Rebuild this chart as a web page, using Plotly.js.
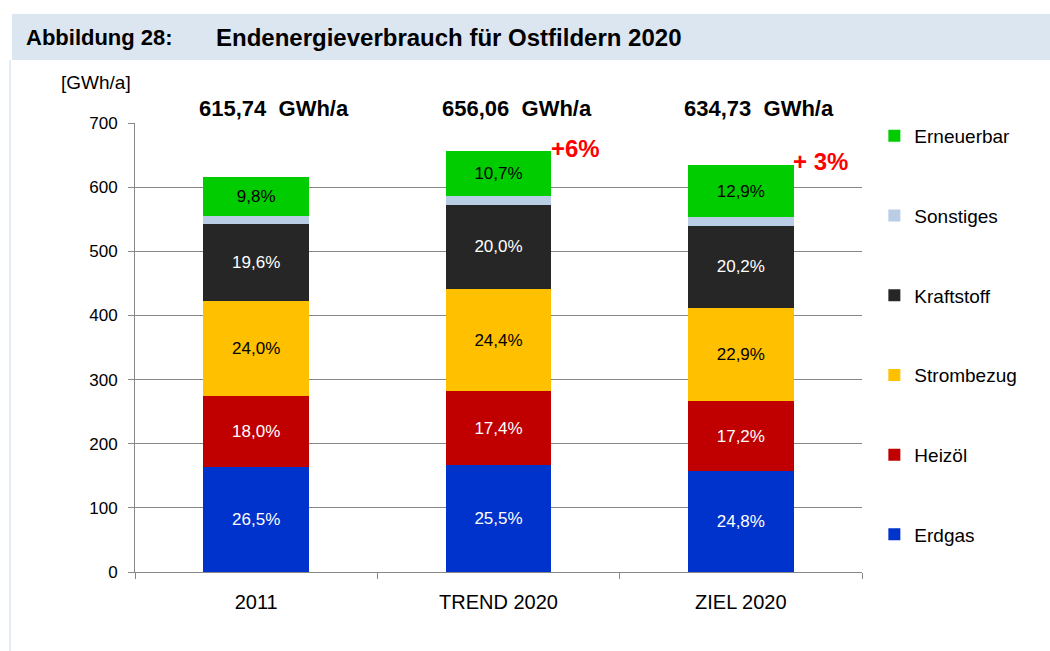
<!DOCTYPE html>
<html>
<head>
<meta charset="utf-8">
<script src="https://cdn.plot.ly/plotly-3.0.1.min.js"></script>
<style>html,body{margin:0;padding:0;background:#fff;}#chart{width:1050px;height:651px;}</style>
</head>
<body>
<div id="chart"></div>
<script>
// ---- data ----
const categories = ['2011', 'TREND 2020', 'ZIEL 2020'];
const erdgas     = [163.2, 167.3, 157.4];
const heizoel    = [110.8, 114.2, 109.2];
const strombezug = [147.8, 160.1, 145.4];
const kraftstoff = [120.7, 131.2, 128.2];
const sonstiges  = [12.9, 13.1, 12.7];
const erneuerbar = [60.3, 70.2, 81.9];

const pctErdgas     = ['26,5%', '25,5%', '24,8%'];
const pctHeizoel    = ['18,0%', '17,4%', '17,2%'];
const pctStrombezug = ['24,0%', '24,4%', '22,9%'];
const pctKraftstoff = ['19,6%', '20,0%', '20,2%'];
const pctSonstiges  = ['', '', ''];
const pctErneuerbar = ['9,8%', '10,7%', '12,9%'];

const totals       = [615.74, 656.06, 634.73];
const totalLabels  = ['615,74  GWh/a', '656,06  GWh/a', '634,73  GWh/a'];
const changeLabels = ['', '+6%', '+ 3%'];

const FONT = 'Liberation Sans, Arial, sans-serif';

function makeBar(name, y, text, color, textColor, rank) {
  return {
    type: 'bar', name: name, x: categories, y: y, text: text,
    marker: {color: color, line: {width: 0}},
    textposition: 'inside', insidetextanchor: 'middle', textangle: 0,
    textfont: {family: FONT, size: 17, color: textColor},
    hoverinfo: 'x+y+name', legendgroup: name, legendrank: rank
  };
}

const traces = [
  makeBar('Erdgas', erdgas, pctErdgas, '#0033CC', '#ffffff', 6),
  makeBar('Heizöl', heizoel, pctHeizoel, '#C00000', '#ffffff', 5),
  makeBar('Strombezug', strombezug, pctStrombezug, '#FFC000', '#000000', 4),
  makeBar('Kraftstoff', kraftstoff, pctKraftstoff, '#262626', '#ffffff', 3),
  makeBar('Sonstiges', sonstiges, pctSonstiges, '#B9CDE5', '#000000', 2),
  makeBar('Erneuerbar', erneuerbar, pctErneuerbar, '#00CC00', '#000000', 1)
];

const annotations = [];
categories.forEach((c, i) => {
  annotations.push({
    x: i, y: 700, xref: 'x', yref: 'y', text: totalLabels[i], showarrow: false,
    xanchor: 'center', yanchor: 'bottom', xshift: 18, yshift: 0,
    font: {family: FONT, size: 22, color: '#000', weight: 'bold'}
  });
  if (changeLabels[i]) {
    annotations.push({
      x: i, y: totals[i], xref: 'x', yref: 'y', text: changeLabels[i], showarrow: false,
      xanchor: 'left', yanchor: 'middle', xshift: 50, yshift: 3,
      font: {family: FONT, size: 24, color: '#FF0000', weight: 'bold'}
    });
  }
});
annotations.push({
  xref: 'paper', yref: 'paper', x: -0.1045, y: 1.0913, xanchor: 'left', yanchor: 'middle',
  text: '[GWh/a]', showarrow: false, font: {family: FONT, size: 19, color: '#000'}
});
annotations.push({
  xref: 'paper', yref: 'paper', x: -0.1527, y: 1.1915, xanchor: 'left', yanchor: 'middle',
  text: 'Abbildung 28:', showarrow: false, font: {family: FONT, size: 22, color: '#000', weight: 'bold'}
});
annotations.push({
  xref: 'paper', yref: 'paper', x: 0.108, y: 1.1915, xanchor: 'left', yanchor: 'middle',
  text: 'Endenergieverbrauch für Ostfildern 2020', showarrow: false,
  font: {family: FONT, size: 24, color: '#000', weight: 'bold'}
});

const layout = {
  width: 1050, height: 651,
  margin: {l: 135, r: 188, t: 123, b: 79},
  paper_bgcolor: '#ffffff', plot_bgcolor: '#ffffff',
  barmode: 'stack', bargap: 0.565,
  font: {family: FONT, size: 17, color: '#000'},
  xaxis: {
    type: 'category', range: [-0.5, 2.5], autorange: false,
    showline: true, linecolor: '#878787', linewidth: 1,
    ticks: 'outside', tickson: 'boundaries', ticklen: 6, tickcolor: '#878787',
    ticklabelstandoff: 12,
    showgrid: false, tickangle: 0, tickfont: {family: FONT, size: 20, color: '#000'}
  },
  yaxis: {
    range: [0, 700], autorange: false, dtick: 100, showline: true, linecolor: '#878787', linewidth: 1,
    ticks: 'outside', ticklen: 6, tickcolor: '#878787', ticklabelstandoff: 7,
    showgrid: true, gridcolor: '#878787', gridwidth: 1, zeroline: false,
    tickfont: {family: FONT, size: 17, color: '#000'}
  },
  legend: {
    x: 1.017, y: 1.0134, xanchor: 'left', yanchor: 'top',
    traceorder: 'grouped', tracegroupgap: 52, maxheight: 600,
    font: {family: FONT, size: 19, color: '#000'}, bgcolor: 'rgba(0,0,0,0)'
  },
  shapes: [
    {type: 'rect', xref: 'paper', yref: 'paper', x0: -0.1692, x1: 1.2586, y0: 1.1403, y1: 1.2428,
     fillcolor: '#DCE6F1', line: {width: 0}, layer: 'below'},
    {type: 'line', xref: 'paper', yref: 'paper', x0: -0.1719, x1: -0.1719, y0: -0.18, y1: 1.1403,
     line: {color: '#DCE6F1', width: 1.5}}
  ],
  annotations: annotations,
  showlegend: true
};

Plotly.newPlot('chart', traces, layout, {displayModeBar: false, staticPlot: true});
</script>
</body>
</html>
